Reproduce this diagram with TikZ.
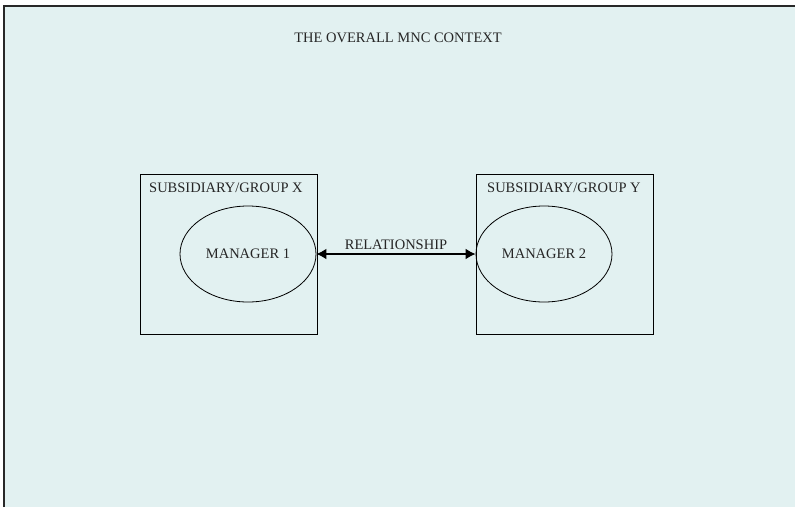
\documentclass[tikz,border=0pt]{standalone}
\usepackage{fontspec}
\setmainfont{Liberation Serif}
\usepackage{xcolor}
\usepackage{tikz}
\usetikzlibrary{shapes.geometric, arrows.meta, positioning}

\definecolor{ctxcyan}{RGB}{226,241,241}
\definecolor{ctxedge}{RGB}{40,40,40}

\begin{document}
\begin{tikzpicture}[x=1pt, y=-1pt, every node/.style={font=\fontsize{14.5}{17}\selectfont, text=black!85},
  groupbox/.style={draw, rectangle, line width=0.8pt, minimum width=177pt, minimum height=160pt},
  manager/.style={draw, ellipse, line width=0.8pt, minimum width=136pt, minimum height=96pt}]
\useasboundingbox (0,0) rectangle (795,507);
% context area
\fill[ctxcyan] (4,6) rectangle (795,507);
\draw[ctxedge, line width=1.6pt] (4,507) -- (4,6) -- (795,6);
\node (context) at (398,38) {THE OVERALL MNC CONTEXT};

% the two subsidiaries
\node (groupX) [groupbox] at (228.5,254) {};
\node (groupY) [groupbox] at (565,254) {};
\node (headX) [anchor=west, inner sep=0pt] at (149,188) {SUBSIDIARY/GROUP X};
\node (headY) [anchor=west, inner sep=0pt] at (487,188) {SUBSIDIARY/GROUP Y};

% managers
\node (mgr1) [manager] at (248,254) {MANAGER 1};
\node (mgr2) [manager] at (544,254) {MANAGER 2};
\draw[{Latex[length=10pt,width=11pt]}-{Latex[length=10pt,width=11pt]}, line width=1.8pt] (mgr1) -- node[above] {RELATIONSHIP} (mgr2);
\end{tikzpicture}
\end{document}
